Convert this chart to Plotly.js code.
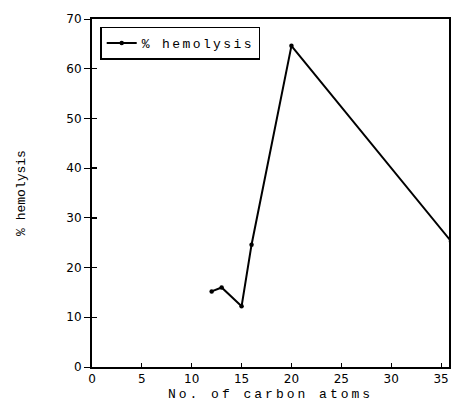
<!DOCTYPE html>
<html>
<head>
<meta charset="utf-8">
<script src="https://cdn.plot.ly/plotly-3.0.1.min.js"></script>
<style>
html,body{margin:0;padding:0;background:#fff;}
#chart{width:451px;height:402px;}
#chart .xtitle{letter-spacing:3px;}
#chart .legendtext{letter-spacing:2.4px;}
</style>
</head>
<body>
<div id="chart"></div>
<script>
const carbonAtoms = [12, 13, 15, 16, 20, 36];
const hemolysis = [15.2, 16.0, 12.2, 24.6, 64.6, 25.3];
const seriesName = '% hemolysis';
const xTitle = 'No. of carbon atoms';
const yTitle = '% hemolysis';

const monoFamily = 'Liberation Mono, DejaVu Sans Mono, monospace';
const tickFont = {family: 'DejaVu Sans, Liberation Sans, sans-serif', size: 12, color: '#000'};

const trace = {
  x: carbonAtoms,
  y: hemolysis,
  name: seriesName,
  type: 'scatter',
  mode: 'lines+markers',
  line: {color: '#000', width: 2},
  marker: {color: '#000', size: 4.5, symbol: 'circle'},
  cliponaxis: true
};
const ghost = {x: [0], y: [0], xaxis: 'x', yaxis: 'y2', mode: 'markers', marker: {opacity: 0}, showlegend: false, hoverinfo: 'skip'};

const layout = {
  width: 451, height: 402,
  margin: {l: 92, r: 2, t: 19, b: 35},
  paper_bgcolor: '#fff', plot_bgcolor: '#fff',
  showlegend: true,
  legend: {
    orientation: 'h', entrywidth: 112, entrywidthmode: 'pixels',
    x: 0.023, y: 0.978, xanchor: 'left', yanchor: 'top',
    bordercolor: '#000', borderwidth: 1.5, bgcolor: '#fff',
    font: {family: monoFamily, size: 13, color: '#000'}, itemwidth: 30, tracegroupgap: 0
  },
  xaxis: {
    range: [0, 35.8], tickvals: [0, 5, 10, 15, 20, 25, 30, 35],
    ticks: 'inside', ticklen: 4, tickwidth: 1, tickcolor: '#000',
    showline: true, linecolor: '#000', linewidth: 2, mirror: true,
    showgrid: false, zeroline: false,
    tickfont: tickFont,
    title: {text: xTitle, font: {family: monoFamily, size: 13, color: '#000'}, standoff: 6}
  },
  yaxis: {
    range: [0, 70], tickvals: [0, 10, 20, 30, 40, 50, 60, 70],
    ticks: 'outside', ticklen: 6, tickwidth: 1, tickcolor: '#000',
    showline: true, linecolor: '#000', linewidth: 2, mirror: true,
    showgrid: false, zeroline: false,
    tickfont: tickFont,
    title: {text: yTitle, font: {family: monoFamily, size: 13, color: '#000'}, standoff: 38}
  },
  yaxis2: {
    overlaying: 'y', anchor: 'x', side: 'left', range: [0, 70], tickvals: [10, 20, 30, 40, 50, 60],
    ticks: 'inside', ticklen: 5, tickwidth: 1.5, tickcolor: '#000',
    showticklabels: false, showline: false, showgrid: false, zeroline: false
  }
};

Plotly.newPlot('chart', [trace, ghost], layout, {displayModeBar: false, staticPlot: true});
</script>
</body>
</html>
